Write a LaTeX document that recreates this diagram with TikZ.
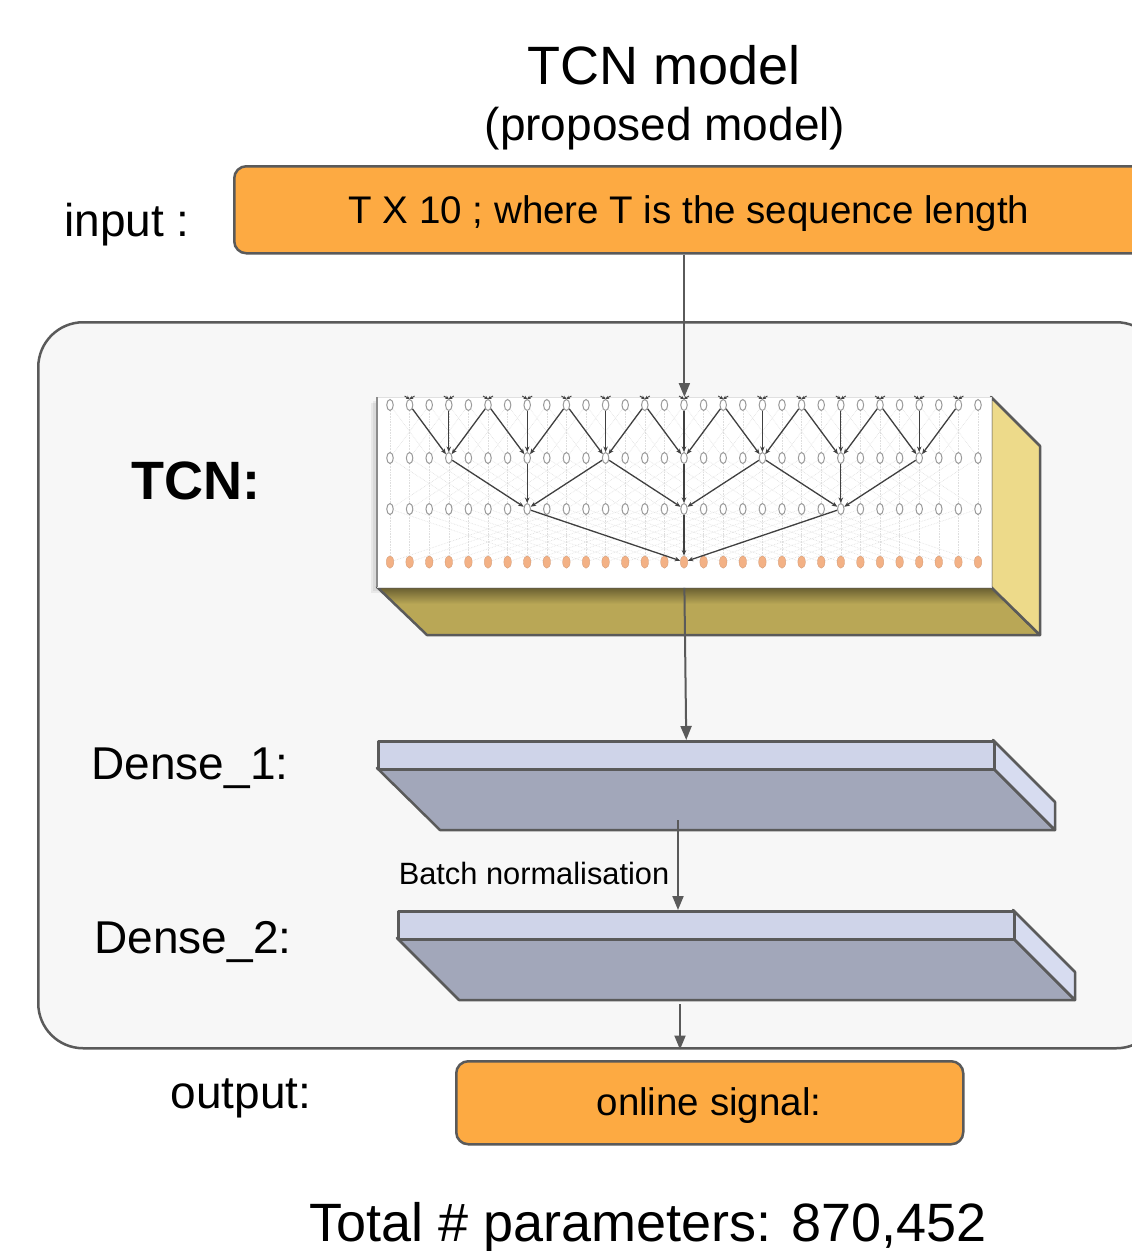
\documentclass[tikz,border=0pt]{standalone}
\usepackage{fontspec}
\setmainfont{Liberation Sans}
\usetikzlibrary{arrows.meta,calc,shapes.geometric}
\definecolor{edgegray}{HTML}{5A5A5A}
\definecolor{boxorange}{HTML}{FDAA42}
\definecolor{panelgray}{HTML}{F7F7F7}
\definecolor{tcnbottom}{HTML}{B9A756}
\definecolor{tcnside}{HTML}{EDDA8A}
\definecolor{densetop}{HTML}{CFD4E9}
\definecolor{densefront}{HTML}{A2A7BA}
\definecolor{denseside}{HTML}{D7DCF0}
\definecolor{unitorange}{HTML}{F3B185}
\definecolor{unitgray}{HTML}{9A9A9A}
\tikzset{
  conn/.style={draw=edgegray, line width=2pt, -{Triangle[length=14pt,width=11pt]}},
  orangebox/.style={draw=edgegray, fill=boxorange, line width=2.5pt, rounded corners=12pt, inner sep=0pt},
  face/.style={draw=edgegray, line width=2.5pt, line join=round},
  lbl/.style={font=\fontsize{46}{50}\selectfont, anchor=base, inner sep=0pt},
  boxtext/.style={font=\fontsize{38.5}{44}\selectfont, anchor=base, inner sep=0pt},
  hollowunit/.style={ellipse, draw=unitgray, fill=white, line width=1pt, minimum width=6.5pt, minimum height=11pt, inner sep=0pt},
  filledunit/.style={ellipse, fill=unitorange, draw=unitorange!85!black, line width=0.3pt, minimum width=7.5pt, minimum height=12.5pt, inner sep=0pt},
  dil/.style={draw=black!75, line width=1.3pt, -{Stealth[length=5.5pt,width=4.5pt]}},
  faint/.style={draw=black!13, line width=0.6pt, densely dotted},
}
\begin{document}
\begin{tikzpicture}[x=1pt,y=-1pt]
\clip (0,0) rectangle (1132,1251);
\fill[white] (0,0) rectangle (1132,1251);

% titles
\node[font=\fontsize{54}{60}\selectfont, anchor=base, inner sep=0pt] (title) at (664,84) {TCN model};
\node[font=\fontsize{46}{52}\selectfont, anchor=base, inner sep=0pt] (subtitle) at (665,140) {(proposed model)};

% panel
\node[draw=edgegray, fill=panelgray, line width=2.5pt, rounded corners=45pt, minimum width=1123pt, minimum height=726pt, inner sep=0pt, anchor=north west] (panel) at (37,321) {};

% input
\node[lbl] (inputlbl) at (127,236) {input :};
\node[orangebox, minimum width=912pt, minimum height=87pt, anchor=north west] (inbox) at (233,165) {};
\node[boxtext] (intext) at (689,223) {T X 10 ; where T is the sequence length};

% TCN block
\node[font=\bfseries\fontsize{54}{60}\selectfont, anchor=base, inner sep=0pt] (tcnlbl) at (196,499) {TCN:};
\fill[black, opacity=0.06] (371,403) rectangle (989,593);
\fill[black, opacity=0.06] (373,401) rectangle (990,591);
\fill[tcnbottom] (377,587) -- (991,587) -- (1040,635) -- (427,635) -- cycle;
\begin{scope}
  \clip (377,587) -- (991,587) -- (1040,635) -- (427,635) -- cycle;
  \shade[top color=tcnbottom!55!black, bottom color=tcnbottom] (377,587) rectangle (1040,604);
\end{scope}
\draw[face] (377,587) -- (991,587) -- (1040,635) -- (427,635) -- cycle;
\draw[face, fill=tcnside] (991,397) -- (1040,446) -- (1040,635) -- (991,587) -- cycle;
\node[fill=white, draw=black!12, line width=0.8pt, minimum width=614pt, minimum height=190pt, inner sep=0pt, anchor=north west] (tcnimg) at (377,397) {};
\draw[black!45, line width=1.5pt] (377,397) -- (377,587);

% TCN units
\foreach \k in {0,...,30} {
  \node[hollowunit] (u1-\k) at ({390+19.6*\k},405) {};
  \node[hollowunit] (u2-\k) at ({390+19.6*\k},458) {};
  \node[hollowunit] (u3-\k) at ({390+19.6*\k},509) {};
  \node[filledunit] (u4-\k) at ({390+19.6*\k},562) {};
}
% faint full connectivity
\foreach \r/\s/\d in {1/2/2,2/3/4,3/4/8} {
  \foreach \k in {0,...,30} {
    \draw[faint] (u\r-\k) -- (u\s-\k);
    \pgfmathtruncatemacro{\a}{\k+\d}
    \ifnum\a<31 \draw[faint] (u\r-\k) -- (u\s-\a); \draw[faint] (u\r-\a) -- (u\s-\k); \fi
  }
}
% incoming marks on the first row
\foreach \k in {1,3,...,29} {
  \coordinate (m\k) at ({390+19.6*\k},396);
  \draw[dil, line width=0.9pt, -{Stealth[length=3.5pt,width=3.5pt]}] ($(m\k)+(-5,0)$) -- (u1-\k.north);
  \draw[dil, line width=0.9pt, -{Stealth[length=3.5pt,width=3.5pt]}] ($(m\k)+(5,0)$) -- (u1-\k.north);
}
% dilated connections
\foreach \t in {3,7,...,27} {
  \foreach \o in {-2,0,2} {
    \pgfmathtruncatemacro{\src}{\t+\o}
    \draw[dil] (u1-\src) -- (u2-\t);
  }
}
\foreach \t in {7,15,23} {
  \foreach \o in {-4,0,4} {
    \pgfmathtruncatemacro{\src}{\t+\o}
    \draw[dil] (u2-\src) -- (u3-\t);
  }
}
\foreach \o in {-8,0,8} {
  \pgfmathtruncatemacro{\src}{15+\o}
  \draw[dil] (u3-\src) -- (u4-15);
}

% Dense_1
\node[lbl] (d1lbl) at (190,779) {Dense\_1:};
\draw[face, fill=densefront] (377,768) -- (993,768) -- (1055,830) -- (440,830) -- cycle;
\draw[face, fill=denseside] (993,740) -- (1055,802) -- (1055,830) -- (993,768) -- cycle;
\node[face, fill=densetop, minimum width=616pt, minimum height=28pt, inner sep=0pt, anchor=north west] (d1top) at (377,740) {};

% Dense_2
\node[lbl] (d2lbl) at (193,953) {Dense\_2:};
\draw[face, fill=densefront] (397,938) -- (1013,938) -- (1075,1000) -- (459,1000) -- cycle;
\draw[face, fill=denseside] (1013,910) -- (1075,972) -- (1075,1000) -- (1013,938) -- cycle;
\node[face, fill=densetop, minimum width=616pt, minimum height=28pt, inner sep=0pt, anchor=north west] (d2top) at (397,910) {};

\node[font=\fontsize{30.8}{34}\selectfont, anchor=base, inner sep=0pt] (bnlbl) at (534,884) {Batch normalisation};

% connectors
\draw[conn] (inbox.south -| tcnimg.north) -- (tcnimg.north);
\draw[conn] (tcnimg.south) -- (d1top.north);
\coordinate (bnstart) at (678,820);
\draw[conn] (bnstart) -- (bnstart |- d2top.north);
\coordinate (d2out) at (680,1004);
\draw[conn] (d2out) -- (d2out |- panel.south);

% output
\node[lbl] (outlbl) at (241,1108) {output:};
\node[orangebox, minimum width=507pt, minimum height=83pt, anchor=north west] (outbox) at (455,1060) {};
\node[boxtext] (outtext) at (709,1115) {online signal:};

\node[font=\fontsize{54}{60}\selectfont, anchor=base, inner sep=0pt] (total) at (648,1241) {Total \# parameters: 870,452};
\end{tikzpicture}
\end{document}
